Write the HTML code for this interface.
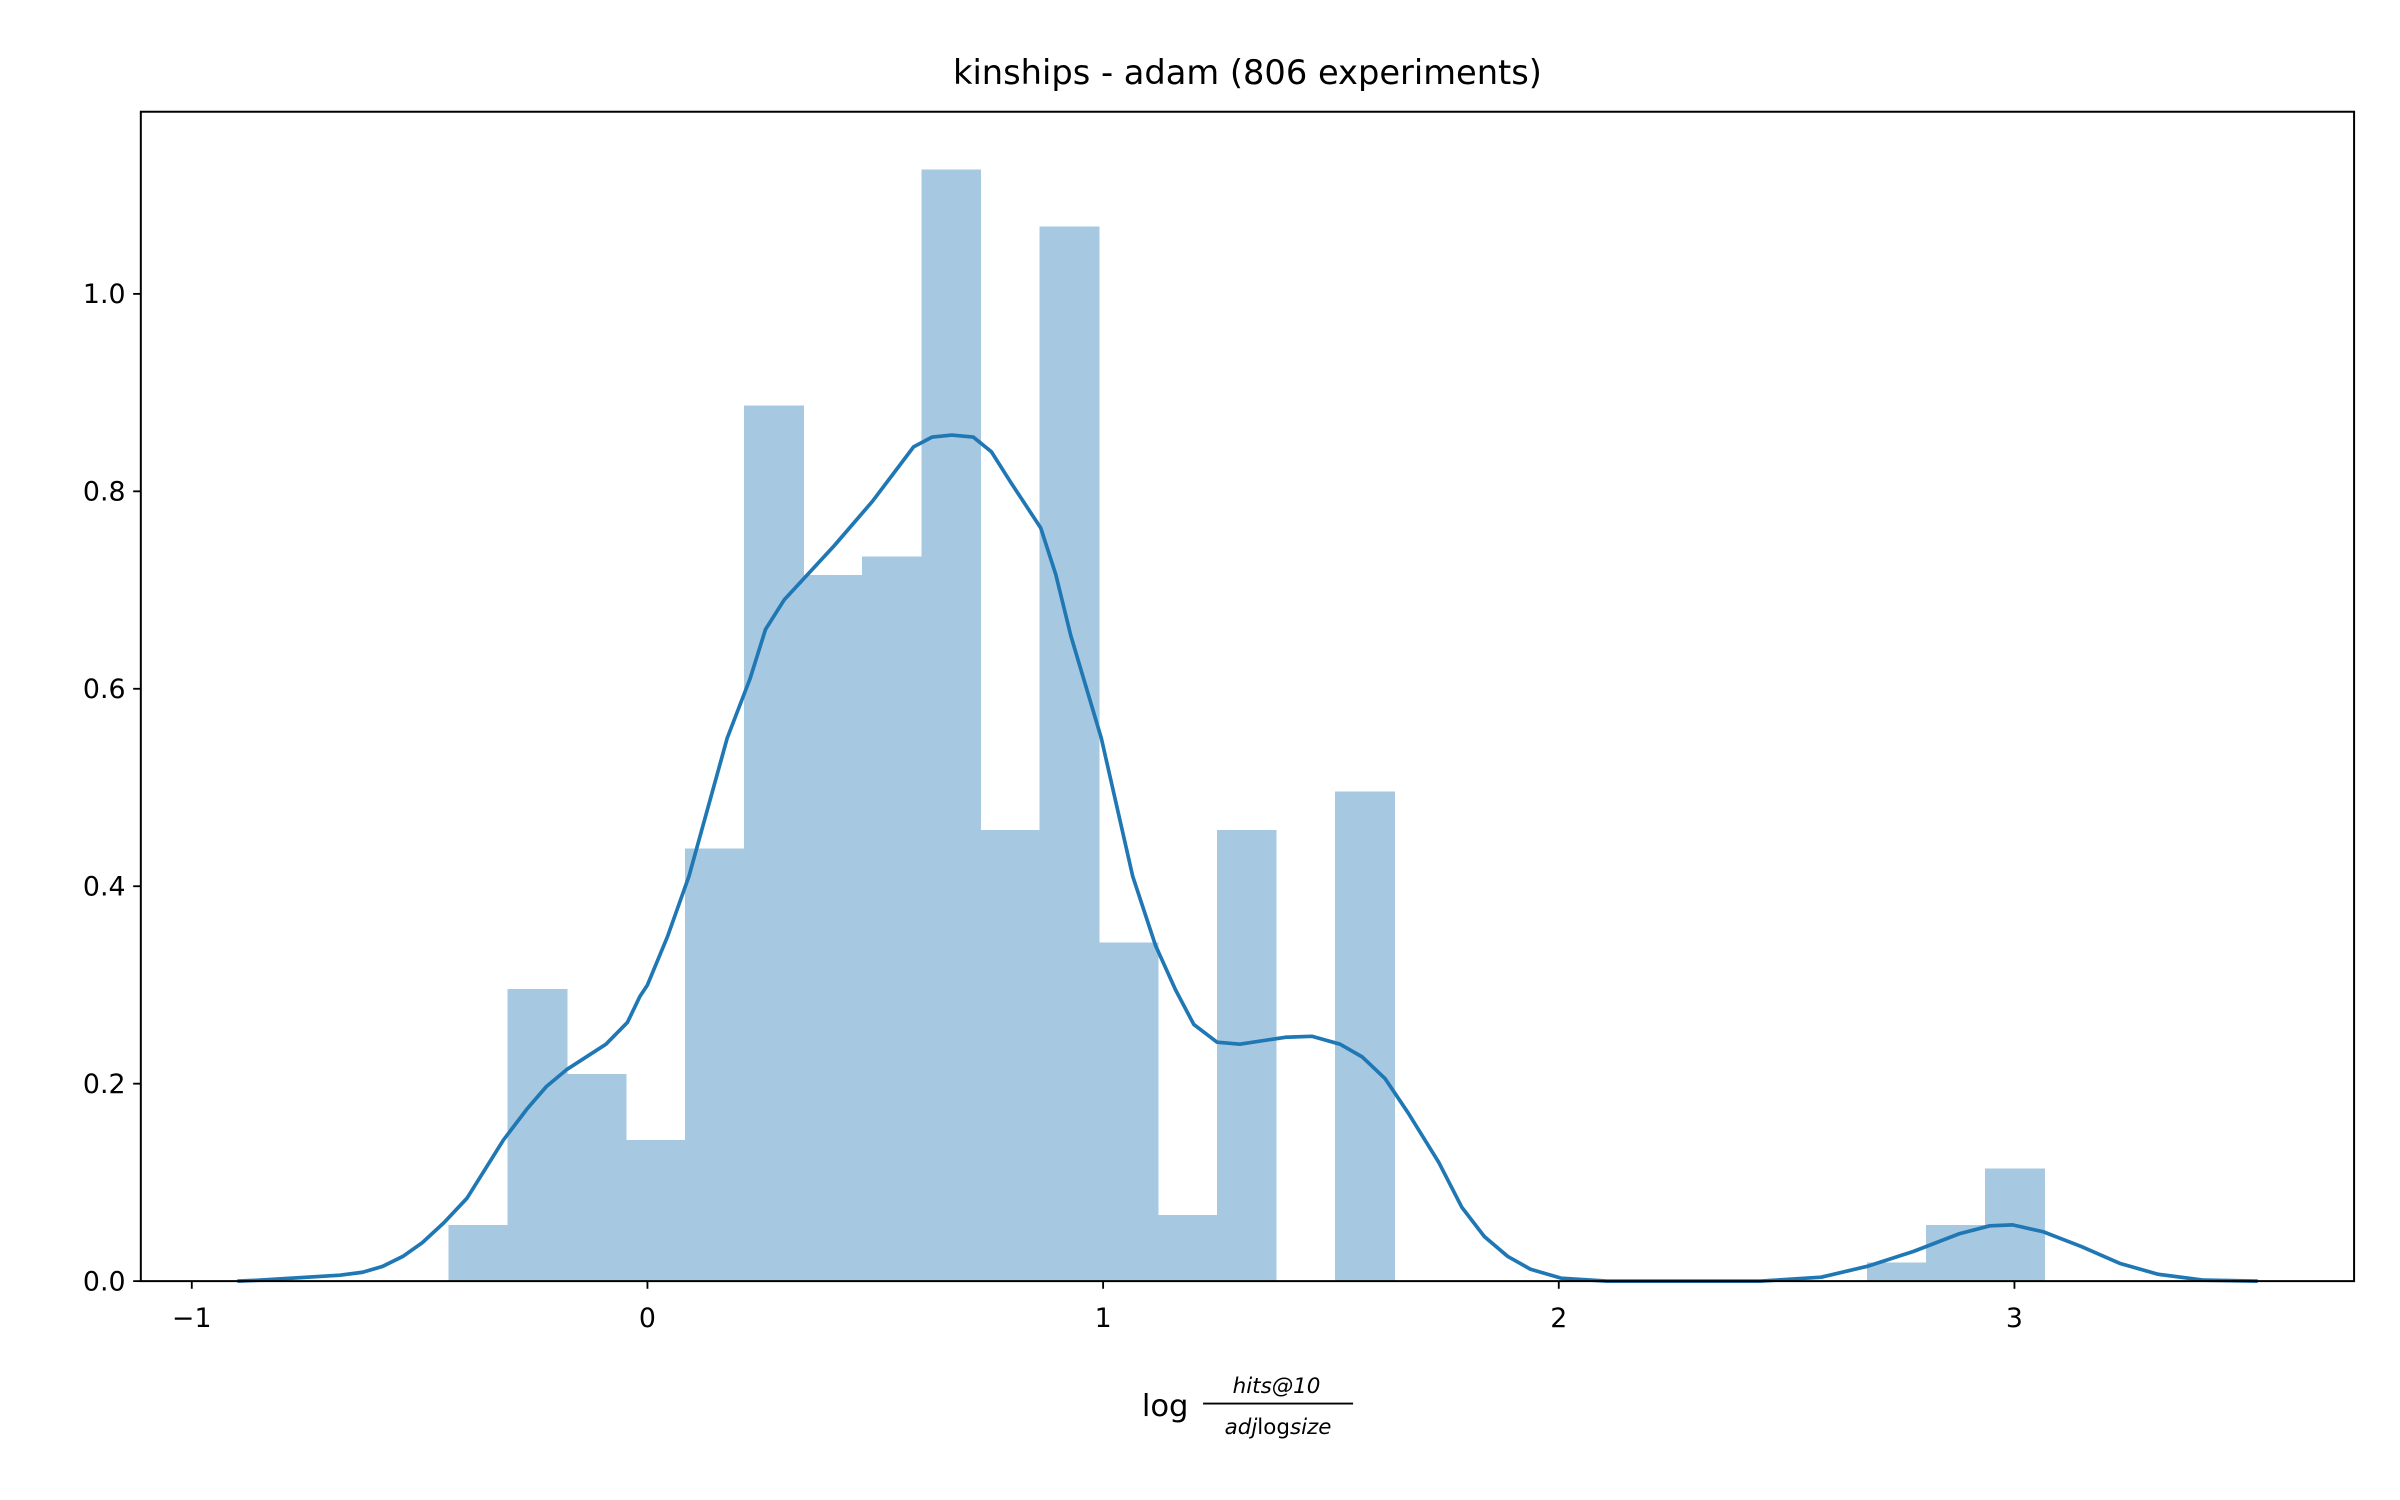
<!DOCTYPE html>
<html><head><meta charset="utf-8"><style>
html,body{margin:0;padding:0;background:#fff;}
svg{display:block;font-family:"DejaVu Sans","Liberation Sans",sans-serif;}
</style></head><body>
<svg id="chart" width="2400" height="1500" viewBox="0 0 1568 980" xmlns="http://www.w3.org/2000/svg">
<rect width="1568" height="980" fill="#fff"/>
<text x="815" y="55" font-size="22" text-anchor="middle">kinships - adam (806 experiments)</text>
<g id="bars" shape-rendering="crispEdges"></g>
<g id="kde"></g>
<rect x="92" y="73" width="1446" height="764" fill="none" stroke="#000" stroke-width="1.3"/>
<g id="xticks"></g>
<g id="yticks"></g>
<g>
<text x="746" y="925" font-size="20">log</text>
<text x="834" y="910" font-size="14" font-style="italic" text-anchor="middle">hits@10</text>
<line x1="786" y1="917" x2="884" y2="917" stroke="#000" stroke-width="1.2"/>
<text x="835" y="937" font-size="14" text-anchor="middle"><tspan font-style="italic">adj</tspan>log<tspan font-style="italic">size</tspan></text>
</g>
</svg>
<script>
const binStart = -0.4367;
const binWidth = 0.1297;
const binValues = [0.057,0.296,0.210,0.143,0.438,0.887,0.715,0.734,1.126,0.457,1.068,0.343,0.067,0.457,0,0.496,0,0,0,0,0,0,0,0,0.019,0.057,0.114];
const kdeX = [-0.90,-0.85,-0.675,-0.625,-0.581,-0.537,-0.494,-0.447,-0.396,-0.316,-0.265,-0.222,-0.178,-0.091,-0.044,-0.017,0,0.044,0.091,0.175,0.225,0.259,0.30,0.35,0.41,0.494,0.584,0.625,0.668,0.715,0.755,0.796,0.863,0.896,0.929,0.996,1.065,1.115,1.159,1.199,1.25,1.3,1.40,1.458,1.52,1.569,1.619,1.67,1.737,1.787,1.837,1.888,1.938,2.005,2.106,2.442,2.576,2.677,2.778,2.879,2.946,2.996,3.063,3.147,3.231,3.315,3.416,3.534];
const kdeY = [0,0.001,0.006,0.009,0.015,0.025,0.039,0.059,0.084,0.143,0.174,0.197,0.214,0.240,0.262,0.288,0.30,0.349,0.41,0.55,0.61,0.66,0.69,0.715,0.745,0.79,0.845,0.855,0.857,0.855,0.84,0.81,0.763,0.716,0.654,0.55,0.41,0.34,0.295,0.26,0.242,0.24,0.247,0.248,0.24,0.227,0.205,0.17,0.12,0.075,0.045,0.025,0.012,0.003,0,0,0.004,0.015,0.03,0.048,0.056,0.057,0.05,0.035,0.018,0.007,0.001,0];
const xTickVals = [-1,0,1,2,3];
const xTickLabels = ["\u22121","0","1","2","3"];
const yTickVals = [0,0.2,0.4,0.6,0.8,1.0];
const yTickLabels = ["0.0","0.2","0.4","0.6","0.8","1.0"];

const NS = "http://www.w3.org/2000/svg";
function xs(v){ return 423 + v * 297.7; }
function ys(v){ return 837 - v * 645; }
function mk(tag, attrs){ const e = document.createElementNS(NS, tag); for (const k in attrs) e.setAttribute(k, attrs[k]); return e; }

const bars = document.getElementById('bars');
binValues.forEach((v, i) => {
  if (v <= 0) return;
  const x0 = xs(binStart + i * binWidth), x1 = xs(binStart + (i + 1) * binWidth);
  const r = mk('rect', {x: x0, y: ys(v), width: x1 - x0 + 0.5, height: ys(0) - ys(v), fill: '#a6c8e0'});
  
  
  bars.appendChild(r);
});

const kde = document.getElementById('kde');
const pts = kdeX.map((x, i) => xs(x).toFixed(2) + ',' + ys(kdeY[i]).toFixed(2)).join(' ');
const pl = mk('polyline', {points: pts, fill: 'none', stroke: '#1f77b4', 'stroke-width': 2.4, 'stroke-linejoin': 'round'});


kde.appendChild(pl);

const xt = document.getElementById('xticks');
xTickVals.forEach((v, i) => {
  const g = mk('g', {});
  
  
  g.appendChild(mk('line', {x1: xs(v), x2: xs(v), y1: 837, y2: 842, stroke: '#000', 'stroke-width': 1.2}));
  const t = mk('text', {x: xs(v), y: 867, 'font-size': 17.5, 'text-anchor': 'middle'});
  t.textContent = xTickLabels[i];
  g.appendChild(t);
  xt.appendChild(g);
});
const yt = document.getElementById('yticks');
yTickVals.forEach((v, i) => {
  const g = mk('g', {});
  
  
  g.appendChild(mk('line', {x1: 87, x2: 92, y1: ys(v), y2: ys(v), stroke: '#000', 'stroke-width': 1.2}));
  const t = mk('text', {x: 82, y: ys(v) + 6, 'font-size': 17.5, 'text-anchor': 'end'});
  t.textContent = yTickLabels[i];
  g.appendChild(t);
  yt.appendChild(g);
});
</script>
</body></html>
